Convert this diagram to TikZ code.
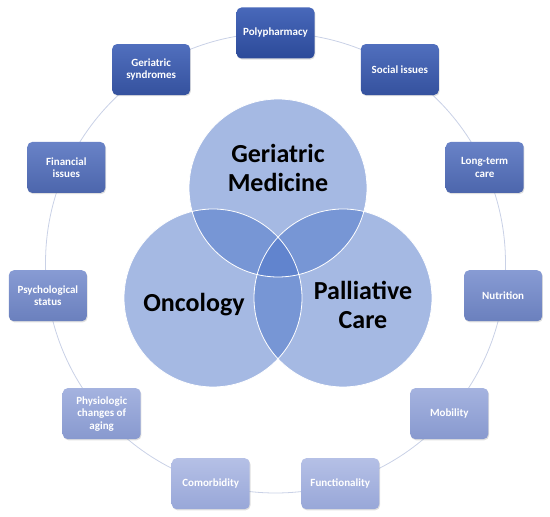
\documentclass[tikz,border=0pt]{standalone}
\usepackage{fontspec}
\setmainfont{Carlito}
\usetikzlibrary{shadows}
\definecolor{dtop}{HTML}{4868BA}
\definecolor{dbot}{HTML}{2C4A99}
\definecolor{ltop}{HTML}{B5C0E6}
\definecolor{lbot}{HTML}{98A7D8}
\definecolor{venn}{HTML}{4B73C7}
\definecolor{ringc}{HTML}{C9D1E6}
\begin{document}
\begin{tikzpicture}[x=1pt,y=1pt,
  box/.style={rounded corners=5pt, minimum width=78pt, minimum height=51pt,
    align=center, text=white, font=\fontsize{11}{12.5}\selectfont\bfseries,
    inner sep=2pt, draw=none,
    drop shadow={opacity=0.25, shadow xshift=0.8pt, shadow yshift=-1.2pt}},
  tint/.style={top color=dtop!#1!ltop, bottom color=dbot!#1!lbot},
  vennfill/.style={circle, minimum size=178pt, inner sep=0pt, fill=venn, fill opacity=0.5},
  vennline/.style={draw=white, line width=0.8pt},
  vlabel/.style={font=\fontsize{26}{29}\selectfont\bfseries, align=center, text=black}]
\useasboundingbox (0,0) rectangle (550,517);
\coordinate (ctr) at (275.5,254);
\draw[ringc, line width=0.8pt] (ctr) circle[radius=230pt];
\foreach \a/\p/\n/\t in {
  90/100/b0/{Polypharmacy},
  57.27/92/b1/{Social issues},
  24.55/70/b2/{Long-term\\care},
  -8.18/42/b3/{Nutrition},
  -40.91/15/b4/{Mobility},
  -73.64/0/b5/{Functionality},
  -106.36/0/b6/{Comorbidity},
  -139.09/15/b7/{Physiologic\\changes of\\aging},
  -171.82/42/b8/{Psychological\\status},
  155.45/70/b9/{Financial\\issues},
  122.73/92/b10/{Geriatric\\syndromes}}
  {\path (ctr) ++(\a:230pt) node[box, tint=\p] (\n) {\t};}
\node[vennfill] (gm) at (278,329) {};
\node[vennfill] (on) at (213,219) {};
\node[vennfill] (pc) at (343,219) {};
\draw[vennline] (gm.center) circle[radius=89pt];
\draw[vennline] (on.center) circle[radius=89pt];
\draw[vennline] (pc.center) circle[radius=89pt];
\node[vlabel] (tgm) at (278,349) {Geriatric\\Medicine};
\node[vlabel] (ton) at (194,212) {Oncology};
\node[vlabel] (tpc) at (363,212) {Palliative\\Care};
\end{tikzpicture}
\end{document}
